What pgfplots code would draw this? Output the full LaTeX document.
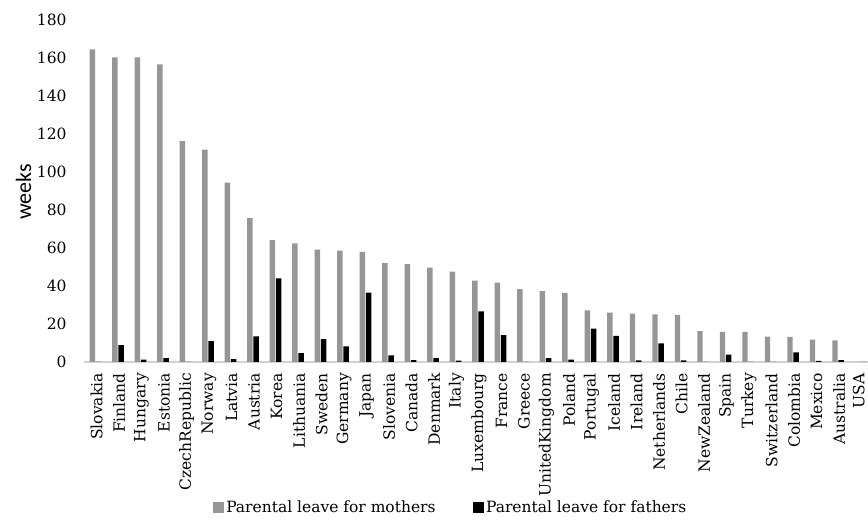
\documentclass[border=0pt]{standalone}
\usepackage{pgfplots}
\pgfplotsset{compat=1.18}
\usepackage{pgfplotstable}
\usepackage{fontspec}
\setmainfont{DejaVu Serif}
\newfontfamily\labelsans{Carlito}
\definecolor{mgray}{RGB}{150,150,150}
\definecolor{axgray}{RGB}{210,210,210}

\pgfplotstableread{
idx country mothers fathers
0 Slovakia 164.5 0
1 Finland 160.3 8.9
2 Hungary 160.3 1.2
3 Estonia 156.7 2.0
4 CzechRepublic 116.2 0
5 Norway 111.8 11.0
6 Latvia 94.4 1.5
7 Austria 75.7 13.5
8 Korea 64.2 44.0
9 Lithuania 62.4 4.7
10 Sweden 59.1 12.0
11 Germany 58.6 8.2
12 Japan 58.0 36.5
13 Slovenia 52.0 3.5
14 Canada 51.5 1.0
15 Denmark 49.7 2.0
16 Italy 47.5 0.7
17 Luxembourg 42.8 26.6
18 France 41.8 14.2
19 Greece 38.3 0
20 UnitedKingdom 37.3 2.0
21 Poland 36.4 1.2
22 Portugal 27.2 17.6
23 Iceland 26.0 13.7
24 Ireland 25.5 0.9
25 Netherlands 25.0 9.8
26 Chile 24.8 0.9
27 NewZealand 16.2 0
28 Spain 15.9 3.9
29 Turkey 15.9 0
30 Switzerland 13.3 0
31 Colombia 13.2 5.1
32 Mexico 11.8 0.6
33 Australia 11.4 1.0
34 USA 0 0
}\datatable

\begin{document}
\begin{tikzpicture}
\begin{axis}[
  at={(84bp,168bp)}, anchor=south west,
  scale only axis,
  width=784bp, height=342bp,
  xmin=-0.51, xmax=34.33,
  ymin=0, ymax=180,
  ytick={0,20,...,180},
  xtick=data,
  xticklabels={Slovakia,Finland,Hungary,Estonia,CzechRepublic,Norway,Latvia,Austria,Korea,Lithuania,Sweden,Germany,Japan,Slovenia,Canada,Denmark,Italy,Luxembourg,France,Greece,UnitedKingdom,Poland,Portugal,Iceland,Ireland,Netherlands,Chile,NewZealand,Spain,Turkey,Switzerland,Colombia,Mexico,Australia,\raisebox{6bp}{USA}},
  x tick label style={rotate=90, anchor=east, inner sep=0bp, xshift=-11bp, yshift=-1bp, font=\fontsize{15.5bp}{18bp}\selectfont},
  y tick label style={font=\fontsize{15.5bp}{18bp}\selectfont, xshift=-14bp},
  /pgf/number format/assume math mode=true,
  major tick length=0pt,
  axis x line*=bottom,
  axis y line*=left,
  x axis line style={draw=axgray, line width=1.2bp},
  y axis line style={draw=none},
  ybar=0.8bp,
  bar width=5.4bp,
  ylabel={\labelsans\fontsize{22bp}{26bp}\selectfont weeks},
  every axis y label/.append style={at={(axis description cs:-0.0772,0.497)}, anchor=center},
  legend columns=2,
  legend style={at={(axis description cs:0.4675,-0.424)}, anchor=center, draw=none, fill=none,
    font=\fontsize{15.5bp}{18bp}\selectfont,
    /tikz/every even column/.append style={column sep=35bp}},
  legend image code/.code={\fill[#1] (-2bp,-5.5bp) rectangle (9.5bp,5.5bp);},
]
\addplot[fill=mgray, draw=none] table[x=idx, y=mothers]{\datatable};
\addplot[fill=black, draw=none] table[x=idx, y=fathers]{\datatable};
\legend{Parental leave for mothers, Parental leave for fathers}
\end{axis}
\pgfresetboundingbox
\useasboundingbox (0,0) rectangle (868bp,530bp);
\end{tikzpicture}
\end{document}
